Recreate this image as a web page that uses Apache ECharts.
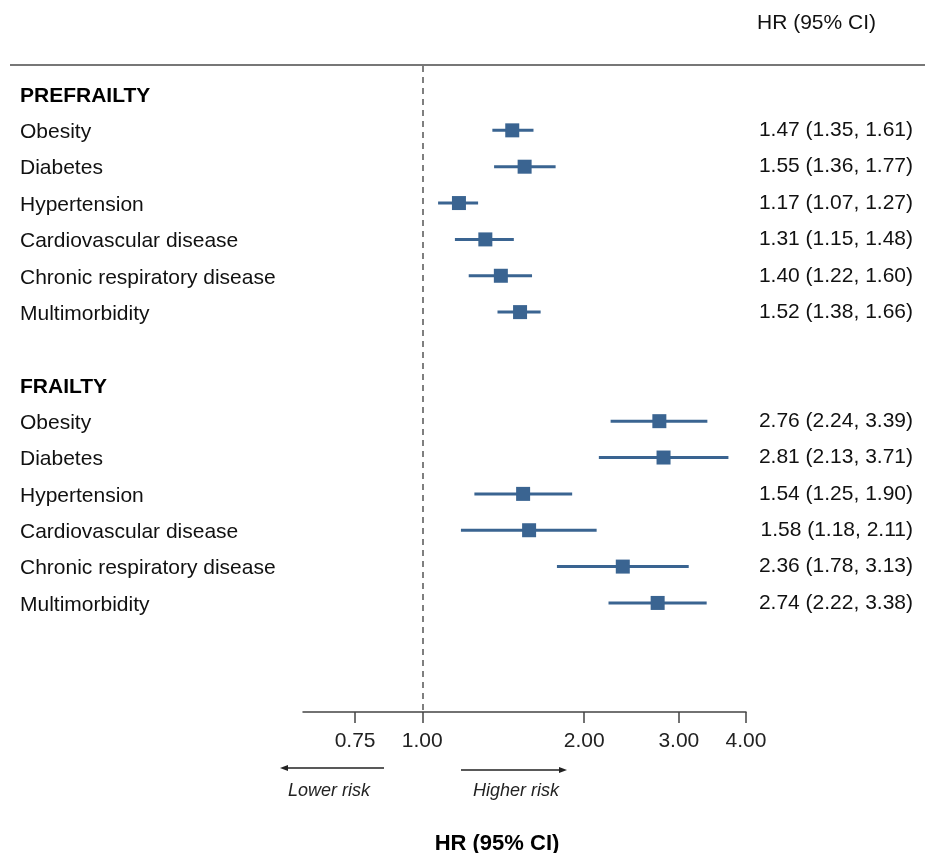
<!DOCTYPE html>
<html>
<head>
<meta charset="utf-8">
<script src="https://cdn.jsdelivr.net/npm/echarts@6/dist/echarts.min.js"></script>
<style>
  html, body { margin: 0; padding: 0; background: #fff; }
  #show_picture { width: 925px; height: 853px; }
</style>
</head>
<body>
<div id="show_picture"></div>
<script>
const groups = ['PREFRAILTY', 'FRAILTY'];
const conditions = ['Obesity', 'Diabetes', 'Hypertension', 'Cardiovascular disease', 'Chronic respiratory disease', 'Multimorbidity'];

const prefrailtyHR = [1.47, 1.55, 1.17, 1.31, 1.40, 1.52];
const prefrailtyLow = [1.35, 1.36, 1.07, 1.15, 1.22, 1.38];
const prefrailtyHigh = [1.61, 1.77, 1.27, 1.48, 1.60, 1.66];

const frailtyHR = [2.76, 2.81, 1.54, 1.58, 2.36, 2.74];
const frailtyLow = [2.24, 2.13, 1.25, 1.18, 1.78, 2.22];
const frailtyHigh = [3.39, 3.71, 1.90, 2.11, 3.13, 3.38];

const xTicks = [0.75, 1, 2, 3, 4];

const FONT = '"Liberation Sans", Helvetica, Arial, sans-serif';
const BLUE = '#3a6491';

// rows: header, 6 conditions, blank, header, 6 conditions
let rowText = [], hrText = [], points = [], bars = [];
const sets = [[prefrailtyHR, prefrailtyLow, prefrailtyHigh], [frailtyHR, frailtyLow, frailtyHigh]];
groups.forEach((g, gi) => {
    let start = gi * 8;
    rowText[start] = '{b|' + g + '}';
    hrText[start] = '';
    let [hr, lo, hi] = sets[gi];
    conditions.forEach((c, i) => {
        let row = start + 1 + i;
        rowText[row] = c;
        hrText[row] = hr[i].toFixed(2) + ' (' + lo[i].toFixed(2) + ', ' + hi[i].toFixed(2) + ')';
        points.push([hr[i], row]);
        bars.push([lo[i], hi[i], row]);
    });
});
const rowValues = rowText.map((_, i) => i).filter(i => rowText[i] !== undefined);

let myChart = echarts.init(document.getElementById('show_picture'));
let option = {
    animation: false,
    textStyle: { fontFamily: FONT },
    grid: { left: 303, right: 179, top: 66, bottom: 141 },
    xAxis: {
        type: 'log',
        logBase: 10,
        min: 0.6,
        max: 4,
        splitLine: { show: false },
        axisLine: { onZero: false, lineStyle: { color: '#444', width: 1.5 } },
        axisTick: { customValues: xTicks, length: 11, lineStyle: { color: '#444', width: 1.5 } },
        axisLabel: {
            customValues: xTicks,
            formatter: v => Number(v).toFixed(2),
            color: '#222', fontSize: 21, fontFamily: FONT, margin: 19
        }
    },
    yAxis: [
        {
            type: 'value', inverse: true, min: -0.77, max: 17, position: 'left',
            axisLine: { show: false }, axisTick: { show: false }, splitLine: { show: false },
            axisLabel: {
                customValues: rowValues,
                formatter: v => rowText[Math.round(v)] || '',
                align: 'left', margin: 283, color: '#111', fontSize: 21, fontFamily: FONT,
                padding: [4, 0, 0, 0],
                rich: { b: { fontWeight: 'bold', fontSize: 21, color: '#000', fontFamily: FONT } }
            }
        },
        {
            type: 'value', inverse: true, min: -0.77, max: 17, position: 'right',
            axisLine: { show: false }, axisTick: { show: false }, splitLine: { show: false },
            axisLabel: {
                customValues: rowValues,
                formatter: v => hrText[Math.round(v)] || '',
                align: 'right', margin: 167, color: '#111', fontSize: 21, fontFamily: FONT,
                padding: [0, 0, 4, 0]
            }
        }
    ],
    series: [
        {
            type: 'custom',
            yAxisIndex: 0,
            encode: { x: [0, 1], y: 2 },
            data: bars,
            renderItem: (params, api) => {
                let p1 = api.coord([api.value(0), api.value(2)]);
                let p2 = api.coord([api.value(1), api.value(2)]);
                return {
                    type: 'line',
                    shape: { x1: p1[0], y1: p1[1], x2: p2[0], y2: p2[1] },
                    style: { stroke: BLUE, lineWidth: 3 }
                };
            }
        },
        {
            type: 'scatter',
            yAxisIndex: 0,
            symbol: 'rect',
            symbolSize: 14,
            itemStyle: { color: BLUE, opacity: 1 },
            data: points,
            markLine: {
                silent: true,
                symbol: ['none', 'none'],
                label: { show: false },
                lineStyle: { color: '#555', width: 1.5, type: [6, 5] },
                data: [{ xAxis: 1 }]
            }
        }
    ],
    graphic: [
        { type: 'line', shape: { x1: 10, y1: 65, x2: 925, y2: 65 }, style: { stroke: '#777', lineWidth: 2 } },
        { type: 'text', left: 757, top: 13, style: { text: 'HR (95% CI)', fontSize: 21, fontFamily: FONT, fill: '#111' } },
        // direction arrows
        { type: 'line', shape: { x1: 285, y1: 768, x2: 384, y2: 768 }, style: { stroke: '#222', lineWidth: 1.5 } },
        { type: 'polygon', shape: { points: [[280, 768], [288, 765], [288, 771]] }, style: { fill: '#222' } },
        { type: 'line', shape: { x1: 461, y1: 770, x2: 562, y2: 770 }, style: { stroke: '#222', lineWidth: 1.5 } },
        { type: 'polygon', shape: { points: [[567, 770], [559, 767], [559, 773]] }, style: { fill: '#222' } },
        { type: 'text', x: 329, y: 791, style: { text: 'Lower risk', fontSize: 18, fontStyle: 'italic', fontFamily: FONT, fill: '#222', align: 'center', verticalAlign: 'middle' } },
        { type: 'text', x: 516, y: 791, style: { text: 'Higher risk', fontSize: 18, fontStyle: 'italic', fontFamily: FONT, fill: '#222', align: 'center', verticalAlign: 'middle' } },
        { type: 'text', x: 497, y: 844, style: { text: 'HR (95% CI)', fontSize: 22, fontWeight: 'bold', fontFamily: FONT, fill: '#000', align: 'center', verticalAlign: 'middle' } }
    ]
};

option && myChart.setOption(option);
</script>
</body>
</html>
